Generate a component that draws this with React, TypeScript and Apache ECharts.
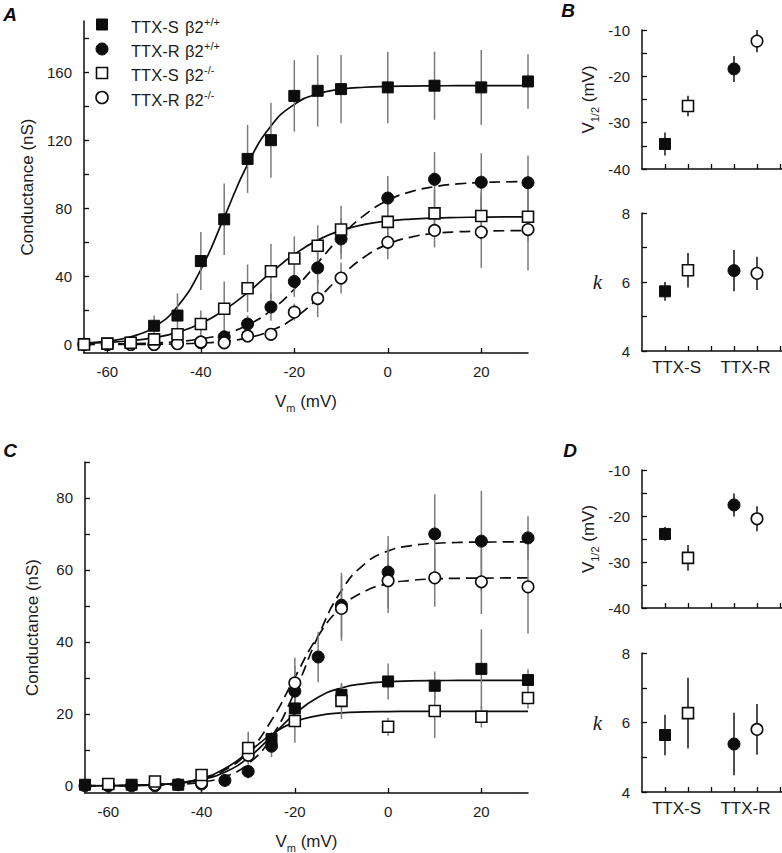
import { useEffect, useRef } from 'react';
import * as echarts from 'echarts';

// ---------- Data ----------
// Membrane potentials (mV) at which conductance was measured
const V_DATA = [-65, -60, -55, -50, -45, -40, -35, -30, -25, -20, -15, -10, 0, 10, 20, 30];
const V_FIT = [-65, -60, -55, -50, -45, -40, -35, -30, -25, -20, -15, -10, -5, 0, 5, 10, 15, 20, 25, 30];

// Panel A (nS)
const A_TTXS_WT = [0.3, 0.5, 1, 11, 17, 49, 73.5, 109, 120, 146, 149, 150, 151, 152, 151, 154.5];
const A_TTXS_WT_ERR = [0, 0.5, 1, 6, 13, 17, 21, 20, 22, 21, 21, 20, 21, 20, 22, 16];
const A_TTXR_WT = [0, 0, 0, 0, 0.5, 1, 4.5, 12, 22, 37, 45, 62, 86, 97, 95.3, 95];
const A_TTXR_WT_ERR = [0, 0, 0, 0, 1, 2, 3, 5, 8, 9, 10, 12, 13, 16, 17, 16];
const A_TTXS_KO = [0, 0.5, 1, 3, 6, 12, 21, 33, 43, 50.5, 58, 67.5, 72, 77, 75.5, 75];
const A_TTXS_KO_ERR = [0, 0.5, 1, 2, 4, 8, 16, 14, 16, 13, 12, 14, 13, 14, 14, 14];
const A_TTXR_KO = [0, 0, 0, 0, 0.5, 1.5, 1, 5, 6, 19, 27, 39, 60, 67, 66, 67.5];
const A_TTXR_KO_ERR = [0, 0, 0, 0, 0.5, 2, 2, 3, 3, 5, 11, 9, 10, 10, 21, 24];

const A_FIT_TTXS_WT = [0.83, 1.95, 4.53, 10.3, 22.3, 44.0, 74.7, 105.8, 128.3, 141.0, 147.2, 149.9, 151.1, 151.6, 151.8, 151.9, 152.0, 152.0, 152.0, 152.0];
const A_FIT_TTXR_WT = [0.12, 0.24, 0.46, 0.89, 1.73, 3.31, 6.24, 11.4, 20.0, 32.6, 48.0, 63.4, 76.0, 84.6, 89.8, 92.7, 94.3, 95.1, 95.5, 95.8];
const A_FIT_TTXS_KO = [0.64, 1.19, 2.2, 4.0, 7.15, 12.3, 20.2, 30.5, 42.2, 53.0, 61.3, 67.0, 70.5, 72.5, 73.65, 74.3, 74.6, 74.8, 74.9, 74.9];
const A_FIT_TTXR_KO = [0.02, 0.04, 0.08, 0.17, 0.38, 0.84, 1.83, 3.92, 8.1, 15.6, 26.9, 40.1, 51.4, 58.9, 63.1, 65.2, 66.2, 66.6, 66.8, 66.9];

// Panel C (nS)
const C_TTXS_WT = [0.3, null, 0.3, null, 0.3, null, null, null, 13, 21.5, null, 25.3, 29, 27.8, 32.5, 29.4];
const C_TTXS_WT_ERR = [0, 0, 0, 0, 0, 0, 0, 0, 2, 5, 0, 3, 5, 4, 11, 3];
const C_TTXR_WT = [0, 0, 0, 0, 0.3, 0.5, 1.5, 4, 11, 26.3, 35.8, 50.2, 59.4, 70, 68, 68.9];
const C_TTXR_WT_ERR = [0, 0, 0, 0, 0, 0.5, 1, 2, 3, 7, 7, 9, 10, 11, 14, 6];
const C_TTXS_KO = [null, 0.5, null, 1.2, null, 3, null, 10.5, null, 18, null, 23.6, 16.4, 20.8, 19.2, 24.4];
const C_TTXS_KO_ERR = [0, 0, 0, 0, 0, 1, 0, 4.5, 0, 6, 0, 5, 2.5, 7.5, 3, 3];
const C_TTXR_KO = [null, 0.3, null, 0.3, null, 0.8, null, 8.5, null, 28.6, null, 49.3, 57, 57.8, 56.7, 55.3];
const C_TTXR_KO_ERR = [0, 0, 0, 0, 0, 0, 0, 2, 0, 7, 0, 9, 9, 8, 9, 13];

const C_FIT_TTXS_WT = [0.02, 0.05, 0.12, 0.3, 0.71, 1.67, 3.78, 7.78, 13.74, 20.0, 24.6, 27.2, 28.4, 28.92, 29.14, 29.24, 29.28, 29.29, 29.3, 29.3];
const C_FIT_TTXS_KO = [0.02, 0.04, 0.11, 0.31, 0.81, 2.06, 4.79, 9.32, 14.29, 17.77, 19.51, 20.25, 20.53, 20.64, 20.68, 20.69, 20.7, 20.7, 20.7, 20.7];
const C_FIT_TTXR_WT = [0.01, 0.03, 0.07, 0.17, 0.41, 1.04, 2.55, 6.1, 13.53, 26.19, 41.61, 54.27, 61.71, 65.25, 66.76, 67.39, 67.64, 67.74, 67.78, 67.8];
const C_FIT_TTXR_KO = [0.03, 0.06, 0.15, 0.36, 0.83, 1.94, 4.39, 9.41, 18.22, 30.14, 41.66, 49.67, 54.07, 56.16, 57.1, 57.5, 57.67, 57.74, 57.77, 57.79];

// Panels B and D: order = TTX-S +/+, TTX-S -/-, TTX-R +/+, TTX-R -/-
const SUMMARY_SLOTS = [1, 2, 4, 5];
const SUMMARY_LABELS = ['TTX-S', 'TTX-R'];
const SUMMARY_LABEL_POS = [1.5, 4.5];
const B_VHALF = [-34.6, -26.4, -18.4, -12.4];
const B_VHALF_ERR = [2.5, 2.2, 2.8, 2.4];
const B_K = [5.73, 6.34, 6.33, 6.25];
const B_K_ERR = [0.27, 0.5, 0.6, 0.48];
const D_VHALF = [-23.9, -29.1, -17.6, -20.6];
const D_VHALF_ERR = [1.5, 2.8, 2.5, 2.7];
const D_K = [5.64, 6.27, 5.38, 5.8];
const D_K_ERR = [0.58, 1.02, 0.9, 0.73];

// Ticks & labels
const A_X_TICKS = [-60, -40, -20, 0, 20];
const A_Y_TICKS = [0, 20, 40, 60, 80, 100, 120, 140, 160, 180];
const A_Y_LABELS = [0, 40, 80, 120, 160];
const C_Y_TICKS = [0, 10, 20, 30, 40, 50, 60, 70, 80, 90];
const C_Y_LABELS = [0, 20, 40, 60, 80];
const VH_TICKS = [-40, -35, -30, -25, -20, -15, -10];
const VH_LABELS = [-40, -30, -20, -10];
const K_TICKS = [4, 5, 6, 7, 8];
const K_LABELS = [4, 6, 8];
const SLOT_TICKS = [1, 2, 3, 4, 5, 6];

const LEGEND_CHANNELS = ['TTX-S', 'TTX-R', 'TTX-S', 'TTX-R'];
const LEGEND_GENOTYPES = ['+/+', '+/+', '-/-', '-/-'];

// ---------- Styles ----------
const FONT = '"Liberation Sans", Arial, Helvetica, sans-serif';
const INK = '#0d0d0d';
const TXT = '#1c1c1c';
const ERR_GRAY = '#7a7a7a';

type MK = 'sFill' | 'cFill' | 'sOpen' | 'cOpen';
const MARKERS: Record<MK, any> = {
  sFill: { symbol: 'rect', symbolSize: 11, itemStyle: { color: INK, borderColor: INK, borderWidth: 1, opacity: 1 } },
  cFill: { symbol: 'circle', symbolSize: 12, itemStyle: { color: INK, borderColor: INK, borderWidth: 1, opacity: 1 } },
  sOpen: { symbol: 'rect', symbolSize: 11, itemStyle: { color: '#fff', borderColor: INK, borderWidth: 1.6, opacity: 1 } },
  cOpen: { symbol: 'circle', symbolSize: 11.5, itemStyle: { color: '#fff', borderColor: INK, borderWidth: 1.6, opacity: 1 } },
};
const LEGEND_MARKS: MK[] = ['sFill', 'cFill', 'sOpen', 'cOpen'];
const SUMMARY_MARKS: MK[] = ['sFill', 'sOpen', 'cFill', 'cOpen'];

function pts(xs: number[], ys: (number | null)[]) {
  const out: number[][] = [];
  xs.forEach((x, i) => {
    if (ys[i] !== null && ys[i] !== undefined) out.push([x, ys[i] as number]);
  });
  return out;
}

function fitLine(g: number, ys: number[], dashed: boolean) {
  return {
    type: 'line',
    xAxisIndex: g,
    yAxisIndex: g,
    data: pts(V_FIT, ys),
    smooth: true,
    showSymbol: false,
    symbol: 'none',
    silent: true,
    z: 2,
    lineStyle: { color: INK, width: 1.7, opacity: 1, type: dashed ? [11, 6] : 'solid' },
  };
}

function errBars(g: number, xs: number[], ys: (number | null)[], es: number[], color: string, width: number) {
  const data: number[][] = [];
  xs.forEach((x, i) => {
    if (ys[i] !== null && ys[i] !== undefined && es[i] > 0) data.push([x, ys[i] as number, es[i]]);
  });
  return {
    type: 'custom',
    xAxisIndex: g,
    yAxisIndex: g,
    silent: true,
    z: 3,
    data,
    renderItem: (_p: any, api: any) => {
      const x = api.value(0);
      const y = api.value(1);
      const e = api.value(2);
      const a = api.coord([x, y + e]);
      const b = api.coord([x, y - e]);
      return {
        type: 'line',
        shape: { x1: a[0], y1: a[1], x2: b[0], y2: b[1] },
        style: { stroke: color, lineWidth: width },
      };
    },
  };
}

function scatter(g: number, data: number[][], mk: MK, z: number) {
  return {
    type: 'scatter',
    xAxisIndex: g,
    yAxisIndex: g,
    data,
    silent: true,
    z,
    ...MARKERS[mk],
  };
}

const axisLine = { show: true, onZero: false, lineStyle: { color: INK, width: 1.5 } };
const tickStyle = { color: INK, width: 1.3 };
const labelBase = { fontSize: 15, color: TXT, fontFamily: FONT };

const VM_NAME = '{a|V}{b|m}{a| (mV)}';
const VM_STYLE = {
  fontFamily: FONT,
  fontSize: 17,
  color: TXT,
  rich: {
    a: { fontFamily: FONT, fontSize: 17, color: TXT, lineHeight: 24 },
    b: { fontFamily: FONT, fontSize: 11, color: TXT, verticalAlign: 'bottom' },
  },
};
const VH_NAME = '{a|V}{b|1/2}{a| (mV)}';

function mainX(g: number) {
  return {
    gridIndex: g,
    type: 'value',
    min: -65,
    max: 30,
    axisLine,
    axisTick: { show: true, inside: true, length: 5, customValues: A_X_TICKS, lineStyle: tickStyle },
    axisLabel: { ...labelBase, customValues: A_X_TICKS, margin: 11 },
    splitLine: { show: false },
    name: VM_NAME,
    nameLocation: 'middle',
    nameGap: 36,
    nameTextStyle: VM_STYLE,
  };
}

function mainY(g: number, min: number, max: number, ticks: number[], labels: number[]) {
  return {
    gridIndex: g,
    type: 'value',
    min,
    max,
    axisLine,
    axisTick: { show: true, inside: true, length: 5, customValues: ticks, lineStyle: tickStyle },
    axisLabel: { ...labelBase, customValues: labels, margin: 12 },
    splitLine: { show: false },
    name: 'Conductance (nS)',
    nameLocation: 'middle',
    nameRotate: 90,
    nameGap: 44,
    nameTextStyle: { fontFamily: FONT, fontSize: 17, color: TXT },
  };
}

function slotX(g: number, withLabels: boolean) {
  return {
    gridIndex: g,
    type: 'value',
    min: 0,
    max: 140 / 23,
    axisLine,
    axisTick: { show: true, inside: true, length: 5, customValues: SLOT_TICKS, lineStyle: tickStyle },
    axisLabel: withLabels
      ? {
          fontFamily: FONT,
          fontSize: 17,
          color: TXT,
          margin: 8,
          customValues: SUMMARY_LABEL_POS,
          formatter: (v: number) => SUMMARY_LABELS[SUMMARY_LABEL_POS.indexOf(v)] ?? '',
        }
      : { show: false },
    splitLine: { show: false },
  };
}

function vhY(g: number) {
  return {
    gridIndex: g,
    type: 'value',
    min: -40,
    max: -10,
    axisLine,
    axisTick: { show: true, inside: true, length: 5, customValues: VH_TICKS, lineStyle: tickStyle },
    axisLabel: { ...labelBase, customValues: VH_LABELS, margin: 12 },
    splitLine: { show: false },
    name: VH_NAME,
    nameLocation: 'middle',
    nameRotate: 90,
    nameGap: 42,
    nameTextStyle: VM_STYLE,
  };
}

function kY(g: number) {
  return {
    gridIndex: g,
    type: 'value',
    min: 4,
    max: 8,
    axisLine,
    axisTick: { show: true, inside: true, length: 5, customValues: K_TICKS, lineStyle: tickStyle },
    axisLabel: { ...labelBase, customValues: K_LABELS, margin: 12 },
    splitLine: { show: false },
    name: 'k',
    nameLocation: 'middle',
    nameRotate: 0,
    nameGap: 40,
    nameTextStyle: { fontFamily: '"Liberation Serif", "Times New Roman", serif', fontStyle: 'italic', fontSize: 21, color: TXT },
  };
}

function mainPanel(g: number, sets: { fit: number[]; dashed: boolean; ys: (number | null)[]; es: number[]; mk: MK }[]) {
  const out: any[] = [];
  sets.forEach((s) => out.push(fitLine(g, s.fit, s.dashed)));
  sets.forEach((s) => out.push(errBars(g, V_DATA, s.ys, s.es, ERR_GRAY, 1.5)));
  // draw order: filled circles, open circles, filled squares, open squares
  const order: MK[] = ['cFill', 'cOpen', 'sFill', 'sOpen'];
  order.forEach((mk, i) => {
    const s = sets.find((q) => q.mk === mk)!;
    out.push(scatter(g, pts(V_DATA, s.ys), mk, 4 + i));
  });
  return out;
}

function summaryPanel(g: number, ys: number[], es: number[]) {
  const out: any[] = [errBars(g, SUMMARY_SLOTS, ys, es, '#222', 1.6)];
  SUMMARY_MARKS.forEach((mk, i) => out.push(scatter(g, [[SUMMARY_SLOTS[i], ys[i]]], mk, 5)));
  return out;
}

function legendGraphics() {
  const els: any[] = [];
  const rowsY = [24.5, 49, 73, 97.5];
  LEGEND_MARKS.forEach((mk, i) => {
    const cy = rowsY[i];
    const filled = mk === 'sFill' || mk === 'cFill';
    const style = filled ? { fill: INK, stroke: INK, lineWidth: 1 } : { fill: '#fff', stroke: INK, lineWidth: 1.6 };
    if (mk[0] === 's') els.push({ type: 'rect', shape: { x: 96.5, y: cy - 5.5, width: 11, height: 11 }, style });
    else els.push({ type: 'circle', shape: { cx: 102, cy, r: 6 }, style });
    els.push({ type: 'text', x: 131, y: cy + 2, style: { text: LEGEND_CHANNELS[i], fontFamily: FONT, fontSize: 16.5, fill: TXT, verticalAlign: 'middle', textAlign: 'left' } });
    els.push({ type: 'text', x: 185, y: cy + 2, style: { text: 'β2', fontFamily: FONT, fontSize: 16.5, fill: TXT, verticalAlign: 'middle', textAlign: 'left' } });
    els.push({ type: 'text', x: 204, y: cy - 3, style: { text: LEGEND_GENOTYPES[i], fontFamily: FONT, fontSize: 11, fill: TXT, verticalAlign: 'middle', textAlign: 'left' } });
  });
  const letters = [
    ['A', 10, 14],
    ['B', 568, 10],
    ['C', 10, 450],
    ['D', 570, 450],
  ];
  letters.forEach(([t, x, y]) =>
    els.push({
      type: 'text',
      x,
      y,
      style: { text: t, fontFamily: FONT, fontSize: 19, fontWeight: 'bold', fontStyle: 'italic', fill: INK, textAlign: 'center', verticalAlign: 'middle' },
    })
  );
  return els;
}

export default function App() {
  const ref = useRef<HTMLDivElement>(null);
  useEffect(() => {
    if (!ref.current) return;
    const chart = echarts.init(ref.current, undefined, { renderer: 'svg' });
    const grids = [
      { left: 84, top: 21, width: 444, height: 332 },
      { left: 642, top: 30, width: 140, height: 139 },
      { left: 642, top: 213, width: 140, height: 138 },
      { left: 85, top: 462, width: 443, height: 331 },
      { left: 642, top: 470, width: 140, height: 138 },
      { left: 642, top: 653, width: 140, height: 139 },
    ].map((g) => ({ ...g, containLabel: false, outerBoundsMode: 'none' }));

    const option: any = {
      animation: false,
      backgroundColor: '#fff',
      grid: grids,
      xAxis: [mainX(0), slotX(1, false), slotX(2, true), mainX(3), slotX(4, false), slotX(5, true)],
      yAxis: [
        mainY(0, -5, 190, A_Y_TICKS, A_Y_LABELS),
        vhY(1),
        kY(2),
        mainY(3, -2, 90, C_Y_TICKS, C_Y_LABELS),
        vhY(4),
        kY(5),
      ],
      series: [
        ...mainPanel(0, [
          { fit: A_FIT_TTXS_WT, dashed: false, ys: A_TTXS_WT, es: A_TTXS_WT_ERR, mk: 'sFill' },
          { fit: A_FIT_TTXR_WT, dashed: true, ys: A_TTXR_WT, es: A_TTXR_WT_ERR, mk: 'cFill' },
          { fit: A_FIT_TTXS_KO, dashed: false, ys: A_TTXS_KO, es: A_TTXS_KO_ERR, mk: 'sOpen' },
          { fit: A_FIT_TTXR_KO, dashed: true, ys: A_TTXR_KO, es: A_TTXR_KO_ERR, mk: 'cOpen' },
        ]),
        ...mainPanel(3, [
          { fit: C_FIT_TTXS_WT, dashed: false, ys: C_TTXS_WT, es: C_TTXS_WT_ERR, mk: 'sFill' },
          { fit: C_FIT_TTXR_WT, dashed: true, ys: C_TTXR_WT, es: C_TTXR_WT_ERR, mk: 'cFill' },
          { fit: C_FIT_TTXS_KO, dashed: false, ys: C_TTXS_KO, es: C_TTXS_KO_ERR, mk: 'sOpen' },
          { fit: C_FIT_TTXR_KO, dashed: true, ys: C_TTXR_KO, es: C_TTXR_KO_ERR, mk: 'cOpen' },
        ]),
        ...summaryPanel(1, B_VHALF, B_VHALF_ERR),
        ...summaryPanel(2, B_K, B_K_ERR),
        ...summaryPanel(4, D_VHALF, D_VHALF_ERR),
        ...summaryPanel(5, D_K, D_K_ERR),
      ],
      graphic: legendGraphics(),
    };
    chart.setOption(option);
    return () => chart.dispose();
  }, []);
  return (
    <div
      ref={ref}
      style={{ position: 'absolute', left: 0, top: 0, width: 782, height: 853, background: '#fff' }}
    />
  );
}
